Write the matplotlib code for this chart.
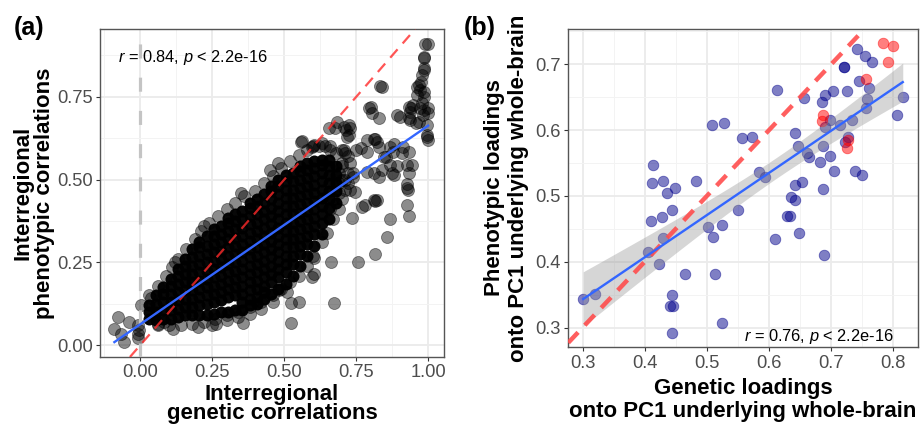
import numpy as np
import matplotlib.pyplot as plt
from matplotlib.ticker import MultipleLocator

plt.rcParams['font.family'] = ['Liberation Sans', 'DejaVu Sans']
plt.rcParams['mathtext.fontset'] = 'custom'
plt.rcParams['mathtext.it'] = 'Liberation Sans:italic'
plt.rcParams['mathtext.rm'] = 'Liberation Sans'

# ---------------- panel (a): interregional correlations ----------------
# dense core of the cloud (read column by column off the black blob)
core_x = [0.03, 0.055, 0.08, 0.105, 0.13, 0.155, 0.18, 0.205, 0.23, 0.255, 0.28,
          0.305, 0.33, 0.355, 0.38, 0.405, 0.43, 0.455, 0.48, 0.505, 0.53, 0.555,
          0.58, 0.605, 0.63, 0.655, 0.68]
core_y = [
    [0.08, 0.10, 0.12],
    [0.075, 0.10, 0.125, 0.15],
    [0.08, 0.105, 0.13, 0.155, 0.175],
    [0.08, 0.105, 0.13, 0.155, 0.18, 0.20],
    [0.085, 0.11, 0.135, 0.16, 0.185, 0.21, 0.23],
    [0.09, 0.115, 0.14, 0.165, 0.19, 0.215, 0.24, 0.26],
    [0.09, 0.115, 0.14, 0.165, 0.19, 0.215, 0.24, 0.265, 0.29],
    [0.09, 0.12, 0.145, 0.17, 0.195, 0.22, 0.245, 0.27, 0.295, 0.31],
    [0.09, 0.125, 0.15, 0.175, 0.20, 0.225, 0.25, 0.275, 0.30, 0.33],
    [0.095, 0.13, 0.155, 0.18, 0.205, 0.23, 0.255, 0.28, 0.305, 0.33, 0.35],
    [0.10, 0.135, 0.16, 0.185, 0.21, 0.235, 0.26, 0.285, 0.31, 0.335, 0.36],
    [0.10, 0.145, 0.17, 0.195, 0.22, 0.245, 0.27, 0.295, 0.32, 0.345, 0.37, 0.385],
    [0.105, 0.15, 0.175, 0.20, 0.225, 0.25, 0.275, 0.30, 0.325, 0.35, 0.375, 0.395],
    [0.105, 0.13, 0.155, 0.18, 0.205, 0.23, 0.255, 0.28, 0.305, 0.33, 0.355, 0.38, 0.405],
    [0.12, 0.14, 0.165, 0.19, 0.215, 0.24, 0.265, 0.29, 0.315, 0.34, 0.365, 0.39, 0.415, 0.43],
    [0.125, 0.145, 0.17, 0.195, 0.22, 0.245, 0.27, 0.295, 0.32, 0.345, 0.37, 0.395, 0.42, 0.44],
    [0.14, 0.16, 0.18, 0.205, 0.23, 0.255, 0.28, 0.305, 0.33, 0.355, 0.38, 0.405, 0.43, 0.455],
    [0.155, 0.19, 0.215, 0.24, 0.265, 0.29, 0.315, 0.34, 0.365, 0.39, 0.415, 0.44, 0.465, 0.48],
    [0.17, 0.205, 0.23, 0.255, 0.28, 0.305, 0.33, 0.355, 0.38, 0.405, 0.43, 0.455, 0.48, 0.50],
    [0.185, 0.22, 0.245, 0.27, 0.295, 0.32, 0.345, 0.37, 0.395, 0.42, 0.445, 0.47, 0.495, 0.515],
    [0.21, 0.245, 0.27, 0.295, 0.32, 0.345, 0.37, 0.395, 0.42, 0.445, 0.47, 0.495, 0.52],
    [0.24, 0.275, 0.30, 0.325, 0.35, 0.375, 0.40, 0.425, 0.45, 0.475, 0.50, 0.525, 0.54],
    [0.27, 0.305, 0.33, 0.355, 0.38, 0.405, 0.43, 0.455, 0.48, 0.505, 0.53, 0.55],
    [0.30, 0.335, 0.36, 0.385, 0.41, 0.435, 0.46, 0.485, 0.51, 0.535, 0.555],
    [0.335, 0.37, 0.395, 0.42, 0.445, 0.47, 0.495, 0.52, 0.545, 0.56],
    [0.38, 0.415, 0.44, 0.465, 0.49, 0.515, 0.54, 0.56],
    [0.43, 0.465, 0.49, 0.515, 0.54],
]

# single points around the edge of the blob
fringe_a = [
    (0.03, 0.15), (0.06, 0.18), (0.09, 0.21), (0.11, 0.235), (0.13, 0.26), (0.16, 0.29),
    (0.19, 0.32), (0.21, 0.345), (0.24, 0.37), (0.27, 0.39), (0.30, 0.41), (0.33, 0.43),
    (0.36, 0.45), (0.40, 0.465), (0.43, 0.49), (0.46, 0.51), (0.49, 0.535), (0.52, 0.555),
    (0.55, 0.575), (0.58, 0.59), (0.60, 0.60), (0.63, 0.61), (0.66, 0.60), (0.70, 0.59),
    (0.72, 0.57), (0.70, 0.55), (0.69, 0.52), (0.71, 0.50), (0.73, 0.47), (0.70, 0.44),
    (0.69, 0.41), (0.67, 0.38), (0.65, 0.34), (0.63, 0.31), (0.60, 0.27), (0.58, 0.24),
    (0.55, 0.21), (0.52, 0.19), (0.49, 0.17), (0.46, 0.15), (0.42, 0.13), (0.38, 0.115),
    (0.34, 0.10), (0.30, 0.09), (0.26, 0.08), (0.22, 0.07), (0.18, 0.065), (0.14, 0.06),
    (0.10, 0.06), (0.06, 0.06),
    (0.30, 0.075), (0.34, 0.085), (0.38, 0.095), (0.42, 0.11), (0.46, 0.13), (0.25, 0.06),
    (0.20, 0.055), (0.35, 0.46), (0.45, 0.53), (0.48, 0.55), (0.12, 0.25), (0.22, 0.36),
    (0.70, 0.50), (0.71, 0.47), (0.72, 0.52), (0.69, 0.46), (0.70, 0.54), (0.73, 0.55),
    (0.68, 0.58), (0.66, 0.59), (0.64, 0.60), (0.72, 0.49), (0.69, 0.49), (0.74, 0.52),
    (0.67, 0.44), (0.66, 0.41), (0.71, 0.58), (0.62, 0.60),
]

# isolated points away from the blob
outlier_a = [
    (-0.079, 0.086), (-0.090, 0.050), (-0.067, 0.035), (-0.058, 0.010), (-0.038, 0.071),
    (-0.009, 0.060), (-0.007, 0.035), (-0.009, 0.020), (-0.005, 0.045), (0.002, 0.121),
    (0.037, 0.141), (0.060, 0.065), (0.083, 0.070), (0.112, 0.050), (0.262, 0.065),
    (0.357, 0.067), (0.522, 0.068), (0.482, 0.166), (0.511, 0.161), (0.522, 0.126),
    (0.551, 0.131), (0.598, 0.206), (0.603, 0.216), (0.603, 0.262), (0.661, 0.250),
    (0.673, 0.128), (0.735, 0.384), (0.757, 0.250), (0.814, 0.274), (0.858, 0.327),
    (0.869, 0.381), (0.771, 0.418), (0.811, 0.438), (0.823, 0.438), (0.926, 0.424),
    (0.933, 0.390), (0.926, 0.474), (0.929, 0.470), (0.927, 0.486), (0.933, 0.521),
    (0.944, 0.544), (0.925, 0.544), (0.892, 0.541), (0.881, 0.514), (0.840, 0.529),
    (0.846, 0.569), (0.869, 0.599), (0.878, 0.584), (0.913, 0.599), (0.909, 0.579),
    (0.932, 0.584), (0.852, 0.569), (0.869, 0.544), (0.875, 0.519), (0.788, 0.524),
    (0.811, 0.519), (0.829, 0.509), (0.738, 0.509), (0.747, 0.464), (0.782, 0.424),
    (0.816, 0.434), (0.765, 0.594), (0.788, 0.584), (0.811, 0.624), (0.823, 0.614),
    (0.788, 0.619), (0.817, 0.624), (0.829, 0.599), (0.748, 0.589), (0.707, 0.589),
    (0.800, 0.720), (0.794, 0.715), (0.806, 0.700), (0.829, 0.685), (0.834, 0.782),
    (0.838, 0.780), (0.725, 0.665), (0.715, 0.650), (0.719, 0.630), (0.655, 0.655),
    (0.684, 0.674), (0.678, 0.655), (0.707, 0.660), (0.730, 0.655), (0.725, 0.634),
    (0.557, 0.614), (0.603, 0.604), (0.561, 0.617), (0.598, 0.599), (0.881, 0.609),
    (0.892, 0.695), (0.902, 0.688), (0.933, 0.685), (0.938, 0.680), (0.959, 0.672),
    (0.968, 0.675), (0.982, 0.695), (0.941, 0.715), (0.932, 0.720), (0.973, 0.715),
    (1.000, 0.700), (1.000, 0.715), (0.985, 0.710), (0.979, 0.730), (0.985, 0.750),
    (0.962, 0.755), (0.985, 0.765), (0.962, 0.780), (0.968, 0.785), (0.973, 0.770),
    (0.976, 0.795), (0.979, 0.815), (0.985, 0.836), (0.987, 0.831), (0.985, 0.866),
    (0.985, 0.869), (0.990, 0.910), (1.000, 0.910), (0.996, 0.634), (1.000, 0.619),
    (0.996, 0.629), (0.996, 0.665), (0.938, 0.705), (0.949, 0.725),
]

fit_a = (0.063, 0.60)      # intercept, slope of the blue lm line
fit_a_xrange = (-0.09, 1.0)
label_a = "$r$ = 0.84, $p$ < 2.2e-16"

# ---------------- panel (b): PC1 loadings ----------------
gen_blue = [0.301, 0.320, 0.413, 0.411, 0.429, 0.435, 0.449, 0.483, 0.410, 0.427, 0.444,
            0.430, 0.405, 0.423, 0.464, 0.444, 0.441, 0.446, 0.444, 0.508, 0.528, 0.502,
            0.510, 0.524, 0.513, 0.524, 0.550, 0.557, 0.573, 0.584, 0.594, 0.612, 0.609,
            0.634, 0.628, 0.636, 0.642, 0.642, 0.653, 0.642, 0.646, 0.661, 0.664, 0.648,
            0.656, 0.682, 0.686, 0.688, 0.685, 0.690, 0.702, 0.686, 0.690, 0.698, 0.698,
            0.704, 0.720, 0.720, 0.714, 0.722, 0.727, 0.725, 0.734, 0.738, 0.749, 0.742,
            0.755, 0.766, 0.745, 0.761, 0.758, 0.756, 0.805, 0.815]
phen_blue = [0.343, 0.351, 0.547, 0.519, 0.522, 0.504, 0.512, 0.522, 0.462, 0.468, 0.478,
             0.436, 0.414, 0.396, 0.381, 0.349, 0.332, 0.332, 0.291, 0.607, 0.610, 0.452,
             0.438, 0.455, 0.382, 0.307, 0.479, 0.588, 0.590, 0.537, 0.528, 0.661, 0.434,
             0.469, 0.469, 0.499, 0.494, 0.517, 0.521, 0.595, 0.576, 0.565, 0.559, 0.443,
             0.648, 0.552, 0.511, 0.410, 0.642, 0.653, 0.660, 0.576, 0.605, 0.615, 0.561,
             0.538, 0.696, 0.696, 0.608, 0.582, 0.590, 0.660, 0.615, 0.538, 0.532, 0.723,
             0.713, 0.703, 0.674, 0.664, 0.647, 0.633, 0.623, 0.650]
gen_red = [0.784, 0.799, 0.792, 0.756, 0.686, 0.685, 0.727, 0.726]
phen_red = [0.732, 0.727, 0.704, 0.677, 0.623, 0.613, 0.585, 0.572]
label_b = "$r$ = 0.76, $p$ < 2.2e-16"

W, H = 921, 424
fig = plt.figure(figsize=(W / 100, H / 100), dpi=100)


def fx(px):
    return px / W


def fy(py):
    return 1 - py / H


def style_axes(ax, major, minor):
    ax.xaxis.set_major_locator(MultipleLocator(major[0]))
    ax.xaxis.set_minor_locator(MultipleLocator(minor[0]))
    ax.yaxis.set_major_locator(MultipleLocator(major[1]))
    ax.yaxis.set_minor_locator(MultipleLocator(minor[1]))
    ax.grid(True, which='major', color='#EBEBEB', lw=1.3, zorder=0)
    ax.grid(True, which='minor', color='#F3F3F3', lw=0.7, zorder=0)
    ax.set_axisbelow(True)
    ax.tick_params(which='major', length=2.8, width=0.8, color='#333333',
                   labelsize=13.2, labelcolor='#4D4D4D', pad=2.5)
    ax.tick_params(which='minor', length=0)
    for s in ax.spines.values():
        s.set_color('#555555')
        s.set_linewidth(1.0)


# ---- (a)
ax1 = fig.add_axes([fx(100), fy(357), fx(344), (357 - 29) / H])
cx = [x for x, ys in zip(core_x, core_y) for _ in ys]
cy = [y for ys in core_y for y in ys]
ax1.scatter(cx, cy, s=75, color='black', alpha=0.97, lw=0, zorder=2)
for pts in (fringe_a, outlier_a):
    px, py = zip(*pts)
    ax1.scatter(px, py, s=75, color='black', alpha=0.45, edgecolors='black',
                linewidths=0.6, zorder=2)
ax1.axvline(0, color='#C4C4C4', lw=2.3, dashes=(4.4, 6), zorder=3)
ax1.axline((0, 0), slope=1, color='#FF2A2A', alpha=0.8, lw=1.6, dashes=(5, 3.5), zorder=4)
xa = np.array(fit_a_xrange)
ax1.plot(xa, fit_a[0] + fit_a[1] * xa, color='#3366FF', lw=1.7, zorder=5)
ax1.set_xlim(-0.14, 1.055)
ax1.set_ylim(-0.036, 0.955)
style_axes(ax1, (0.25, 0.25), (0.125, 0.125))
ax1.xaxis.set_major_formatter(lambda v, p: f"{v:.2f}")
ax1.yaxis.set_major_formatter(lambda v, p: f"{v:.2f}")
ax1.text(0.183, 0.868, label_a, fontsize=11.8, ha='center', va='center', zorder=6)

# ---- (b)
ax2 = fig.add_axes([fx(568.3), fy(347.3), fx(350), (347.3 - 29.3) / H])
ax2.scatter(gen_blue, phen_blue, s=58, color='#00008B', alpha=0.5,
            edgecolors='#00008B', linewidths=0.6, zorder=2)
ax2.scatter(gen_red, phen_red, s=58, color='#FF0000', alpha=0.5,
            edgecolors='#FF0000', linewidths=0.6, zorder=2)

gx = np.array(gen_blue + gen_red)
gy = np.array(phen_blue + phen_red)
slope, icpt = np.polyfit(gx, gy, 1)
resid = gy - (icpt + slope * gx)
n = len(gx)
s_err = np.sqrt(np.sum(resid ** 2) / (n - 2))
xs = np.linspace(gx.min(), gx.max(), 80)
se = s_err * np.sqrt(1 / n + (xs - gx.mean()) ** 2 / np.sum((gx - gx.mean()) ** 2))
ys = icpt + slope * xs
ax2.fill_between(xs, ys - 1.99 * se, ys + 1.99 * se, color='#999999', alpha=0.4,
                 lw=0, zorder=3)
ax2.axline((0.3, 0.3), slope=1, color='#FF4D4D', alpha=0.9, lw=3.2, dashes=(3.2, 2.2), zorder=4)
ax2.plot(xs, ys, color='#3366FF', lw=1.7, zorder=5)
ax2.set_xlim(0.277, 0.840)
ax2.set_ylim(0.270, 0.753)
style_axes(ax2, (0.1, 0.1), (0.05, 0.05))
ax2.text(0.6805, 0.287, label_b, fontsize=11.8, ha='center', va='center', zorder=6)

# ---- titles and panel tags
bold = dict(fontsize=16, fontweight='bold')
fig.text(fx(272), fy(400), "Interregional", ha='center', va='baseline', **bold)
fig.text(fx(272), fy(419), "genetic correlations", ha='center', va='baseline', **bold)
fig.text(fx(28.3), fy(193), "Interregional", rotation=90, rotation_mode='anchor',
         ha='center', va='baseline', **bold)
fig.text(fx(50.3), fy(193), "phenotypic correlations", rotation=90, rotation_mode='anchor',
         ha='center', va='baseline', **bold)
fig.text(fx(743), fy(394), "Genetic loadings", ha='center', va='baseline', **bold)
fig.text(fx(743), fy(416.7), "onto PC1 underlying whole-brain", ha='center', va='baseline', **bold)
fig.text(fx(500.3), fy(188), "Phenotypic loadings", rotation=90, rotation_mode='anchor',
         ha='center', va='baseline', **bold)
fig.text(fx(523.7), fy(188), "onto PC1 underlying whole-brain", rotation=90,
         rotation_mode='anchor', ha='center', va='baseline', **bold)
fig.text(fx(14), fy(34.5), "(a)", fontsize=18, fontweight='bold', va='baseline')
fig.text(fx(464), fy(34.5), "(b)", fontsize=18, fontweight='bold', va='baseline')

fig.savefig('out.png', dpi=100, facecolor='white')
